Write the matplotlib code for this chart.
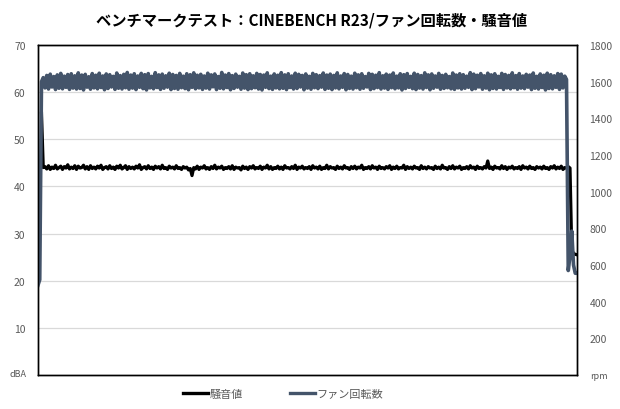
import numpy as np
import matplotlib
matplotlib.use("Agg")
import matplotlib.pyplot as plt

plt.rcParams['font.family'] = ['Noto Sans CJK JP', 'DejaVu Sans']

# ---- data ----
title = "ベンチマークテスト：CINEBENCH R23/ファン回転数・騒音値"
noise_label = "騒音値"
fan_label = "ファン回転数"

# fan speed [rpm]
fan_start = [490, 520, 1600]
fan_plateau = [
    1622, 1566, 1634, 1560, 1641, 1571, 1628, 1557, 1637, 1564, 1645, 1561, 1630, 1569, 1639,
    1558, 1643, 1565, 1632, 1560, 1648, 1563, 1636, 1555, 1640, 1570, 1627, 1559, 1644, 1566,
    1635, 1561, 1646, 1568, 1631, 1556, 1642, 1563, 1638, 1571, 1629, 1558, 1647, 1564, 1633,
    1560, 1640, 1567, 1650, 1559, 1636, 1565, 1643, 1557, 1631, 1569, 1645, 1562, 1638, 1555,
    1644, 1566, 1629, 1561, 1649, 1568, 1637, 1558, 1641, 1564, 1632, 1570, 1646, 1557, 1639,
    1563, 1634, 1559, 1645, 1567, 1630, 1562, 1643, 1556, 1638, 1569, 1648, 1561, 1635, 1566,
    1640, 1558, 1631, 1565, 1646, 1560, 1637, 1572, 1642, 1557, 1628, 1564, 1650, 1561, 1636,
    1568, 1644, 1556, 1633, 1563, 1641, 1570, 1629, 1559, 1647, 1565, 1638, 1557, 1643, 1562,
    1632, 1567, 1645, 1560, 1639, 1555, 1636, 1569, 1648, 1562, 1630, 1558, 1642, 1566, 1635,
    1561, 1649, 1564, 1637, 1557, 1643, 1568, 1631, 1560, 1646, 1563, 1640, 1571, 1634, 1556,
    1642, 1565, 1629, 1559, 1645, 1567, 1638, 1562, 1633, 1570, 1647, 1558, 1636, 1564, 1641,
    1557, 1634, 1566, 1648, 1561, 1631, 1569, 1644, 1556, 1639, 1563, 1630, 1560, 1646, 1567,
    1637, 1559, 1643, 1564, 1628, 1571, 1645, 1557, 1640, 1562, 1635, 1568, 1649, 1560, 1632,
    1565, 1641, 1558, 1636, 1567, 1647, 1561, 1630, 1566, 1643, 1555, 1638, 1563, 1644, 1569,
    1629, 1562, 1646, 1557, 1639, 1565, 1633, 1560, 1648, 1568, 1637, 1556, 1642, 1564, 1631,
    1570, 1645, 1559, 1634, 1563, 1640, 1567, 1628, 1561, 1647, 1558, 1636, 1566, 1643, 1560,
    1638, 1564, 1630, 1569, 1649, 1557, 1641, 1562, 1635, 1571, 1644, 1559, 1632, 1565, 1646,
    1556, 1637, 1563, 1643, 1560, 1629, 1568, 1645, 1558, 1639, 1566, 1634, 1561, 1648, 1567,
    1633, 1559, 1644, 1565, 1631, 1562, 1640, 1570, 1636, 1557, 1647, 1564, 1629, 1560, 1642,
    1568, 1635, 1555, 1646, 1563, 1638, 1561, 1632, 1569, 1644, 1558, 1641, 1566, 1630, 1612,
]
fan_end = [570, 650, 785, 600, 555, 555]

# noise level [dBA]
noise_start = [np.nan, np.nan, 55.5, 44.0]
noise_plateau = [
    44.2, 43.7, 44.4, 43.6, 44.1, 43.8, 44.5, 43.7, 44.0, 44.3, 43.6, 44.2, 43.9, 44.6, 43.7,
    44.1, 43.8, 44.4, 43.6, 44.3, 43.9, 44.0, 44.5, 43.7, 44.2, 43.6, 44.4, 43.8, 44.1, 43.7,
    44.3, 43.9, 44.5, 43.6, 44.0, 44.2, 43.7, 44.4, 43.8, 44.1, 43.6, 44.3, 43.9, 44.5, 43.7,
    44.0, 44.4, 43.6, 44.2, 43.8, 44.1, 43.7, 44.3, 43.9, 44.6, 43.6, 44.0, 44.2, 43.7, 44.4,
    43.8, 44.1, 43.6, 44.3, 43.9, 44.2, 43.7, 44.5, 43.8, 44.0, 43.6, 44.3, 43.9, 44.1, 43.7,
    44.4, 43.8, 44.0, 43.6, 44.2, 43.9, 44.1, 43.5, 43.8, 42.3, 44.0, 43.7, 44.3, 43.6, 44.1,
    43.9, 44.4, 43.7, 44.0, 43.6, 44.2, 43.8, 44.5, 43.7, 44.1, 43.9, 44.3, 43.6, 44.0, 43.8,
    44.2, 43.7, 44.4, 43.6, 44.1, 43.9, 44.0, 43.5, 44.3, 43.8, 44.1, 43.6, 44.2, 43.9, 44.4,
    43.7, 44.0, 43.8, 44.3, 43.6, 44.1, 43.9, 44.5, 43.7, 44.2, 43.6, 44.0, 43.8, 44.3, 43.7,
    44.1, 43.6, 44.4, 43.9, 44.0, 43.7, 44.2, 43.8, 44.5, 43.6, 44.1, 43.9, 44.3, 43.7, 44.0,
    43.8, 44.2, 43.6, 44.4, 43.9, 44.1, 43.7, 44.3, 43.6, 44.0, 43.8, 44.5, 43.7, 44.2, 43.9,
    44.0, 43.6, 44.3, 43.8, 44.1, 43.7, 44.4, 43.9, 44.0, 43.6, 44.2, 43.8, 44.3, 43.7, 44.1,
    43.9, 44.5, 43.6, 44.0, 43.8, 44.2, 43.7, 44.4, 43.9, 44.1, 43.6, 44.3, 43.8, 44.0, 43.7,
    44.2, 43.9, 44.4, 43.6, 44.1, 43.8, 44.3, 43.7, 44.0, 43.9, 44.5, 43.6, 44.2, 43.8, 44.1,
    43.7, 44.3, 43.9, 44.0, 43.6, 44.4, 43.8, 44.1, 43.7, 44.2, 43.9, 44.0, 43.6, 44.3, 43.8,
    44.1, 43.7, 44.5, 43.9, 44.0, 43.6, 44.2, 43.8, 44.4, 43.7, 44.1, 43.9, 44.3, 43.6, 44.0,
    43.8, 44.2, 43.7, 44.4, 43.9, 44.1, 43.6, 44.3, 43.8, 44.0, 43.7, 44.2, 43.9, 45.4, 43.8,
    44.1, 43.6, 44.3, 43.9, 44.0, 43.7, 44.4, 43.8, 44.2, 43.6, 44.1, 43.9, 44.3, 43.7, 44.0,
    43.8, 44.2, 43.6, 44.4, 43.9, 44.1, 43.7, 44.3, 43.8, 44.0, 43.6, 44.2, 43.9, 44.1, 43.7,
    44.3, 43.8, 44.0, 43.6, 44.2, 43.9, 44.4, 43.7, 44.1, 43.8, 44.3, 43.6, 44.0, 43.9, 44.2,
]
noise_end = [43.9, 26.5, 25.8, 25.6, 25.5]

fan = np.array(fan_start + fan_plateau + fan_end, dtype=float)
noise = np.array(noise_start + noise_plateau + noise_end, dtype=float)
t = np.arange(len(fan))

left_ticks = [10, 20, 30, 40, 50, 60, 70]
right_ticks = [200, 400, 600, 800, 1000, 1200, 1400, 1600, 1800]

# ---- plot ----
fan_color = "#44546a"
grey = "#595959"

fig = plt.figure(figsize=(6.2, 4.1), dpi=100)
ax = fig.add_axes([38 / 620, 34 / 410, 539 / 620, 330 / 410])
ax2 = ax.twinx()

ax.plot(t, noise, color="black", lw=2.3, label=noise_label, zorder=3)
ax2.plot(t, fan, color=fan_color, lw=2.6, label=fan_label)

ax.set_xlim(0, len(t) - 1)
ax.set_ylim(0, 70)
ax2.set_ylim(0, 1800)
ax.set_xticks([])
ax.set_yticks(left_ticks)
ax2.set_yticks(right_ticks)
ax.yaxis.grid(True, color="#d9d9d9", lw=0.9)
ax.set_axisbelow(True)

for a in (ax, ax2):
    a.tick_params(axis="y", length=0, pad=9, labelsize=7.5, labelcolor=grey)
    for s in a.spines.values():
        s.set_color("black")
        s.set_linewidth(1.0)

fig.text(18 / 620, 1 - 375 / 410, "dBA", fontsize=6.5, color=grey, ha="center", va="center")
fig.text(599 / 620, 1 - 377 / 410, "rpm", fontsize=6.5, color=grey, ha="center", va="center")
fig.text(312 / 620, 1 - 21 / 410, title, fontsize=11, fontweight="bold", ha="center", va="center")

h1, l1 = ax.get_legend_handles_labels()
h2, l2 = ax2.get_legend_handles_labels()
leg = fig.legend(h1 + h2, l1 + l2, loc="center", bbox_to_anchor=(283 / 620, 1 - 395 / 410),
                 ncol=2, frameon=False, fontsize=8, handlelength=2.3, handletextpad=0.1,
                 columnspacing=4.2)
for txt in leg.get_texts():
    txt.set_color(grey)
for line in leg.get_lines():
    line.set_linewidth(2.4)

fig.savefig("out.png", dpi=100)
